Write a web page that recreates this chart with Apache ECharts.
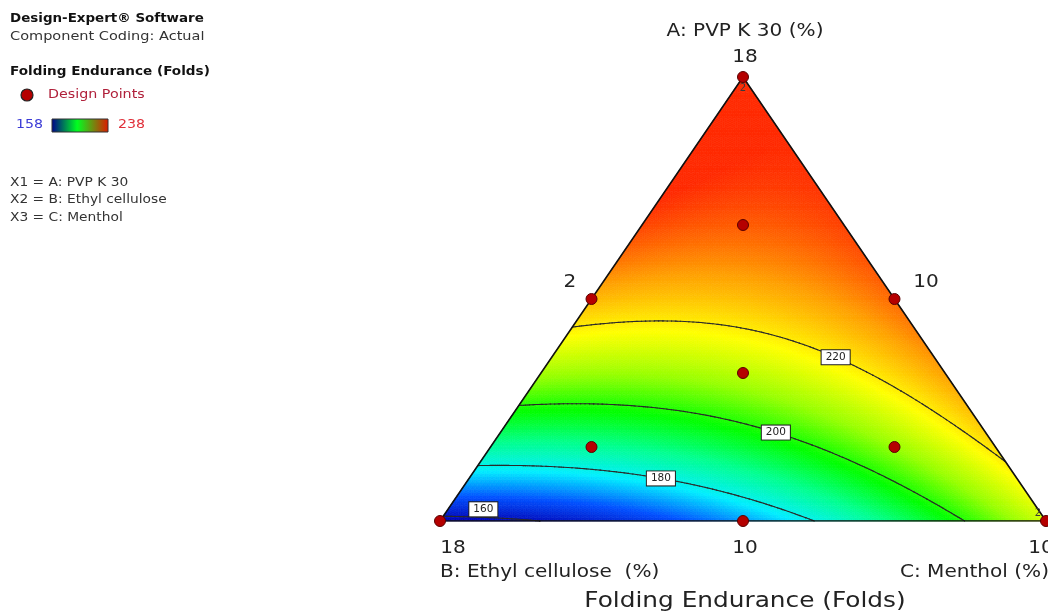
<!DOCTYPE html>
<html>
<head>
<meta charset="utf-8">
<script src="https://cdn.jsdelivr.net/npm/echarts@6/dist/echarts.min.js"></script>
<style>
html,body{margin:0;padding:0;background:#fff;}
#chart{width:1048px;height:614px;}
</style>
</head>
<body>
<div id="chart"></div>
<script>
// ---- Data ----
// Fitted Scheffé special-cubic mixture model (pseudo-component fractions a,b,c)
const termNames = ['A', 'B', 'C', 'AB', 'AC', 'BC', 'ABC'];
const termCoefficients = [238, 158, 213.5, 110, 28, -52, -35];
// Contour levels drawn
const contourLevels = [160, 180, 200, 220];
// Design points as pseudo-component fractions
const designA = [1, 0, 0, 0.5, 0.5, 0, 1/3, 2/3, 1/6, 1/6];
const designB = [0, 1, 0, 0.5, 0, 0.5, 1/3, 1/6, 2/3, 1/6];
const designC = [0, 0, 1, 0, 0.5, 0.5, 1/3, 1/6, 1/6, 2/3];
const designReplicates = [2, 1, 2, 1, 1, 1, 1, 1, 1, 1];
// Tick labels
const vertexTickA = '18', vertexTickB = '18', vertexTickC = '10';
const edgeTickAB = '2', edgeTickAC = '10', edgeTickBC = '10';
const colorMin = 158, colorMax = 238;

// ---- helpers ----
function model(a, b, c) {
  const t = [a, b, c, a * b, a * c, b * c, a * b * c];
  let s = 0;
  for (let k = 0; k < t.length; k++) s += termCoefficients[k] * t[k];
  return s;
}
function toXY(a, b, c) { return [c + a / 2, a]; }

// surface triangles
const N = 140;
const surface = [];
const segs = [];
function val(i, j) { const a = i / N, b = j / N; return model(a, b, 1 - a - b); }
function pt(i, j) { const a = i / N, b = j / N; return toXY(a, b, 1 - a - b); }
function addTri(p, q, r) {
  const P = pt(p[0], p[1]), Q = pt(q[0], q[1]), R = pt(r[0], r[1]);
  const vp = val(p[0], p[1]), vq = val(q[0], q[1]), vr = val(r[0], r[1]);
  surface.push([P[0], P[1], Q[0], Q[1], R[0], R[1], (vp + vq + vr) / 3]);
  const verts = [[P, vp], [Q, vq], [R, vr]];
  contourLevels.forEach(L => {
    const pts = [];
    for (let k = 0; k < 3; k++) {
      const [A1, v1] = verts[k], [A2, v2] = verts[(k + 1) % 3];
      if ((v1 - L) * (v2 - L) < 0) {
        const t = (L - v1) / (v2 - v1);
        pts.push([A1[0] + t * (A2[0] - A1[0]), A1[1] + t * (A2[1] - A1[1])]);
      }
    }
    if (pts.length === 2) segs.push([pts[0][0], pts[0][1], pts[1][0], pts[1][1], L]);
  });
}
for (let i = 0; i < N; i++) {
  for (let j = 0; i + j < N; j++) {
    addTri([i, j], [i + 1, j], [i, j + 1]);
    if (i + j + 2 <= N) addTri([i + 1, j], [i + 1, j + 1], [i, j + 1]);
  }
}

// contour label anchor: contour point nearest to a chosen x
const labelAnchorX = {160: 0.073, 180: 0.365, 200: 0.553, 220: 0.655};
const labelOffset = {160: [0, -8], 180: [0, 0], 200: [0, 0], 220: [0, 0]};
const labelData = contourLevels.map(L => {
  let best = null, bd = 1e9;
  segs.forEach(s => {
    if (s[4] !== L) return;
    const mx = (s[0] + s[2]) / 2, my = (s[1] + s[3]) / 2;
    const d = Math.abs(mx - labelAnchorX[L]);
    if (d < bd) { bd = d; best = [mx, my]; }
  });
  return {value: [best[0], best[1]], name: String(L), label: {offset: labelOffset[L]}};
});

const designData = designA.map((a, k) => {
  const xy = toXY(a, designB[k], designC[k]);
  const item = {value: xy};
  if (designReplicates[k] > 1) {
    item.label = k === 0
      ? {show: true, formatter: String(designReplicates[k]), position: 'bottom', distance: 0}
      : {show: true, formatter: String(designReplicates[k]), position: 'left', distance: 0, offset: [1, -8]};
  }
  return item;
});

const outline = [toXY(0, 1, 0), toXY(1, 0, 0), toXY(0, 0, 1), toXY(0, 1, 0)];

const chart = echarts.init(document.getElementById('chart'), null, {renderer: 'canvas'});
const FONT = '"DejaVu Sans"';
const SX = 1.18; // horizontal stretch of the original picture
function txt(x, y, text, font, fill, align) {
  return {type: 'text', x: x, y: y, scaleX: SX, z: 10,
    style: {text: text, font: font, fill: fill, align: align || 'left', verticalAlign: 'middle'}};
}
const option = {
  animation: false,
  grid: {left: 440, top: 77, width: 606, height: 444},
  xAxis: {type: 'value', min: 0, max: 1, show: false},
  yAxis: {type: 'value', min: 0, max: 1, show: false},
  visualMap: {
    show: false, type: 'continuous', min: colorMin, max: colorMax,
    dimension: 6, seriesIndex: 0,
    inRange: {color: ['#0000b0', '#0050ff', '#00eeff', '#00ff90', '#00ff00',
                      '#98ff00', '#ffff00', '#ffa000', '#ff2a00']}
  },
  series: [
    {
      type: 'custom', data: surface, progressive: 0, silent: true,
      encode: {x: [0, 2, 4], y: [1, 3, 5]},
      renderItem: function (params, api) {
        const p1 = api.coord([api.value(0), api.value(1)]);
        const p2 = api.coord([api.value(2), api.value(3)]);
        const p3 = api.coord([api.value(4), api.value(5)]);
        const col = api.visual('color');
        return {type: 'polygon', shape: {points: [p1, p2, p3]},
          style: {fill: col, stroke: col, lineWidth: 0.7}};
      }
    },
    {
      type: 'custom', data: segs, progressive: 0, silent: true, z: 3,
      encode: {x: [0, 2], y: [1, 3]},
      renderItem: function (params, api) {
        const p1 = api.coord([api.value(0), api.value(1)]);
        const p2 = api.coord([api.value(2), api.value(3)]);
        return {type: 'line', shape: {x1: p1[0], y1: p1[1], x2: p2[0], y2: p2[1]},
          style: {stroke: '#2a2a2a', lineWidth: 1.1, lineCap: 'round'}};
      }
    },
    {
      type: 'line', data: outline, symbol: 'none', z: 4, silent: true,
      lineStyle: {color: '#111', width: 1.6}
    },
    {
      type: 'scatter', data: labelData, symbolSize: 0, z: 5, silent: true,
      itemStyle: {opacity: 1},
      label: {show: true, formatter: '{b}', position: 'inside', color: '#222',
        fontSize: 10.5, fontFamily: FONT, backgroundColor: '#ffffff', opacity: 1,
        borderColor: '#222', borderWidth: 1, padding: [2, 4, 1, 4]}
    },
    {
      type: 'scatter', data: designData, symbolSize: 11, z: 6, clip: false, silent: true,
      itemStyle: {color: '#b50000', borderColor: '#5a0000', borderWidth: 1, opacity: 1},
      label: {color: '#3a3a3a', fontSize: 10, fontFamily: FONT, opacity: 1}
    }
  ],
  graphic: [
    txt(10, 19, 'Design-Expert® Software', 'bold 11.4px ' + FONT, '#111'),
    txt(10, 37, 'Component Coding: Actual', '12.3px ' + FONT, '#333'),
    txt(10, 72, 'Folding Endurance (Folds)', 'bold 11.5px ' + FONT, '#111'),
    {type: 'circle', shape: {cx: 27, cy: 95, r: 6}, style: {fill: '#b50000', stroke: '#222', lineWidth: 1.2}},
    txt(48, 95, 'Design Points', '12.1px ' + FONT, '#b0203a'),
    txt(16, 125, String(colorMin), '12px ' + FONT, '#3b3bd6'),
    {type: 'rect', shape: {x: 52, y: 119, width: 56, height: 13},
      style: {stroke: '#333', lineWidth: 1,
        fill: new echarts.graphic.LinearGradient(0, 0, 1, 0, [
          {offset: 0, color: '#00008c'}, {offset: 0.45, color: '#00ff20'},
          {offset: 1, color: '#e01800'}])}},
    txt(118, 125, String(colorMax), '12px ' + FONT, '#e0303a'),
    txt(10, 183, 'X1 = A: PVP K 30', '11.7px ' + FONT, '#333'),
    txt(10, 200, 'X2 = B: Ethyl cellulose', '11.7px ' + FONT, '#333'),
    txt(10, 218, 'X3 = C: Menthol', '11.7px ' + FONT, '#333'),

    txt(745, 32, 'A: PVP K 30 (%)', '17px ' + FONT, '#222', 'center'),
    txt(745, 58, vertexTickA, '17px ' + FONT, '#222', 'center'),
    txt(570, 283, edgeTickAB, '17px ' + FONT, '#222', 'center'),
    txt(926, 283, edgeTickAC, '17px ' + FONT, '#222', 'center'),
    txt(453, 549, vertexTickB, '17px ' + FONT, '#222', 'center'),
    txt(745, 549, edgeTickBC, '17px ' + FONT, '#222', 'center'),
    txt(1041, 549, vertexTickC, '17px ' + FONT, '#222', 'center'),
    txt(440, 573, 'B: Ethyl cellulose  (%)', '17px ' + FONT, '#222', 'left'),
    txt(1049, 573, 'C: Menthol (%)', '17px ' + FONT, '#222', 'right'),
    txt(745, 602, 'Folding Endurance (Folds)', '21px ' + FONT, '#222', 'center')
  ]
};
chart.setOption(option);
</script>
</body>
</html>
